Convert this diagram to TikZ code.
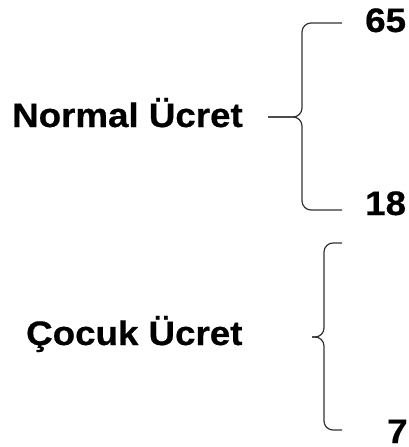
\documentclass[tikz,border=0pt]{standalone}
\usepackage{fontspec}
\setmainfont{Liberation Sans}[FakeStretch=1.08,BoldFeatures={FakeBold=0.6}]
\begin{document}
\begin{tikzpicture}[x=1pt,y=-1pt,
  label/.style={inner sep=0pt,anchor=base west,font=\bfseries\fontsize{34}{38}\selectfont},
  bracket/.style={draw=black!80,line width=1.2pt,rounded corners=9pt}]
\useasboundingbox (0,0) rectangle (409,447);

% labels
\node[label] (normal) at (12,127) {Normal Ücret};
\node[label] (cocuk) at (26,345) {Çocuk Ücret};
\node[label] (n65) at (365,32) {65};
\node[label] (n18) at (365,215) {18};
\node[label] (n7) at (387,443) {7};

% first brace: Normal Ücret -> 65 .. 18
\coordinate (b1tip) at (268,117);
\coordinate (b1mid) at (302,117);
\coordinate (b1top) at (342,23);
\coordinate (b1bot) at (342,210);
\draw[bracket] (b1top) -- (b1top -| b1mid) -- (b1mid) -- (b1tip);
\draw[bracket] (b1bot) -- (b1bot -| b1mid) -- (b1mid) -- (b1tip);

% second brace: Çocuk Ücret -> .. 7
\coordinate (b2tip) at (312,337);
\coordinate (b2mid) at (324,337);
\coordinate (b2top) at (342,243);
\coordinate (b2bot) at (342,430);
\draw[bracket] (b2top) -- (b2top -| b2mid) -- (b2mid) -- (b2tip);
\draw[bracket] (b2bot) -- (b2bot -| b2mid) -- (b2mid) -- (b2tip);
\end{tikzpicture}
\end{document}
